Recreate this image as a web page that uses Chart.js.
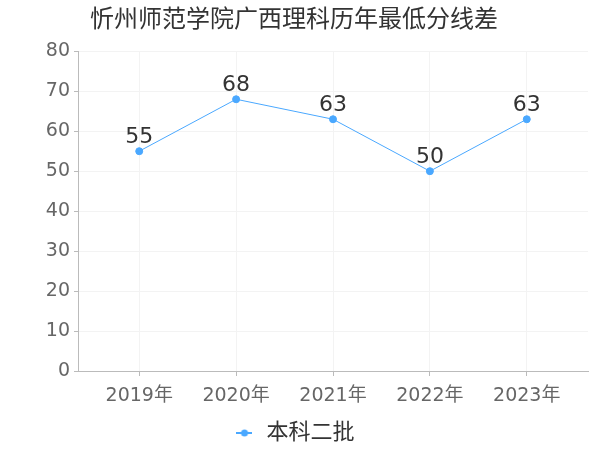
<!DOCTYPE html>
<html>
<head>
<meta charset="utf-8">
<script src="https://cdn.jsdelivr.net/npm/chart.js@4/dist/chart.umd.min.js"></script>
<style>
  html, body { margin:0; padding:0; background:#fff; }
  #wrap { width:600px; height:450px; }
</style>
</head>
<body>
<div id="wrap"><canvas id="chart" width="600" height="450"></canvas></div>
<script>
// chart data
const years = ['2019年', '2020年', '2021年', '2022年', '2023年'];
const scores = [55, 68, 63, 50, 63];
const seriesName = '本科二批';
const titleText = '忻州师范学院广西理科历年最低分线差';

const FONT = '"DejaVu Sans", "Noto Sans CJK SC", sans-serif';
const BLUE = '#4aa8ff';

// legend marker: short line with a dot
function lineDot(){
  const c = document.createElement('canvas');
  c.width = 16; c.height = 10;
  const g = c.getContext('2d');
  g.strokeStyle = BLUE; g.lineWidth = 2;
  g.beginPath(); g.moveTo(0,5); g.lineTo(16,5); g.stroke();
  g.fillStyle = BLUE;
  g.beginPath(); g.arc(8,5,3.5,0,Math.PI*2); g.fill();
  return c;
}

// value labels above each point
const valueLabels = {
  id: 'valueLabels',
  afterDatasetsDraw(chart){
    const ctx = chart.ctx;
    const meta = chart.getDatasetMeta(0);
    ctx.save();
    ctx.font = '22px ' + FONT;
    ctx.fillStyle = '#333';
    ctx.textAlign = 'center';
    ctx.textBaseline = 'middle';
    meta.data.forEach((pt, i) => {
      ctx.fillText(String(scores[i]), pt.x, pt.y - 14);
    });
    ctx.restore();
  }
};

const ctx = document.getElementById('chart').getContext('2d');
new Chart(ctx, {
  type: 'line',
  data: {
    datasets: [{
      label: seriesName,
      data: scores.map((v, i) => ({x: i, y: v})),
      borderColor: BLUE,
      backgroundColor: BLUE,
      borderWidth: 1,
      pointRadius: 3.5,
      pointHoverRadius: 3.5,
      pointStyle: 'circle',
      tension: 0
    }]
  },
  options: {
    responsive: false,
    animation: false,
    layout: { padding: { left: 0, right: 12, top: 0, bottom: -4 } },
    plugins: {
      title: {
        display: true,
        text: titleText,
        color: '#333',
        font: { family: FONT, size: 24, weight: 'normal' },
        padding: { top: 6, bottom: 16.5 }
      },
      legend: {
        position: 'bottom',
        labels: {
          color: '#333',
          font: { family: FONT, size: 22 },
          padding: 2,
          usePointStyle: true,
          generateLabels: (chart) => [{
            text: seriesName,
            pointStyle: lineDot(),
            fillStyle: BLUE,
            strokeStyle: BLUE,
            lineWidth: 0,
            datasetIndex: 0,
            fontColor: '#333'
          }]
        }
      },
      tooltip: { enabled: false }
    },
    scales: {
      x: {
        type: 'linear',
        min: -0.632,
        max: 4.632,
        afterBuildTicks: (scale) => {
          scale.ticks = years.map((y, i) => ({value: i}));
        },
        afterFit: (scale) => { scale.height = 49; },
        grid: { color: '#f3f3f3', tickColor: '#bbb', tickLength: 5 },
        border: { color: '#bbb' },
        ticks: {
          color: '#666',
          font: { family: FONT, size: 19 },
          padding: 9,
          callback: (v) => years[v]
        }
      },
      y: {
        min: 0,
        max: 80,
        afterFit: (scale) => { scale.width = 78; },
        grid: { color: '#f3f3f3', tickColor: '#bbb', tickLength: 4 },
        border: { color: '#bbb' },
        ticks: {
          stepSize: 10,
          color: '#666',
          font: { family: FONT, size: 19 },
          padding: 4
        }
      }
    }
  },
  plugins: [valueLabels]
});
</script>
</body>
</html>
